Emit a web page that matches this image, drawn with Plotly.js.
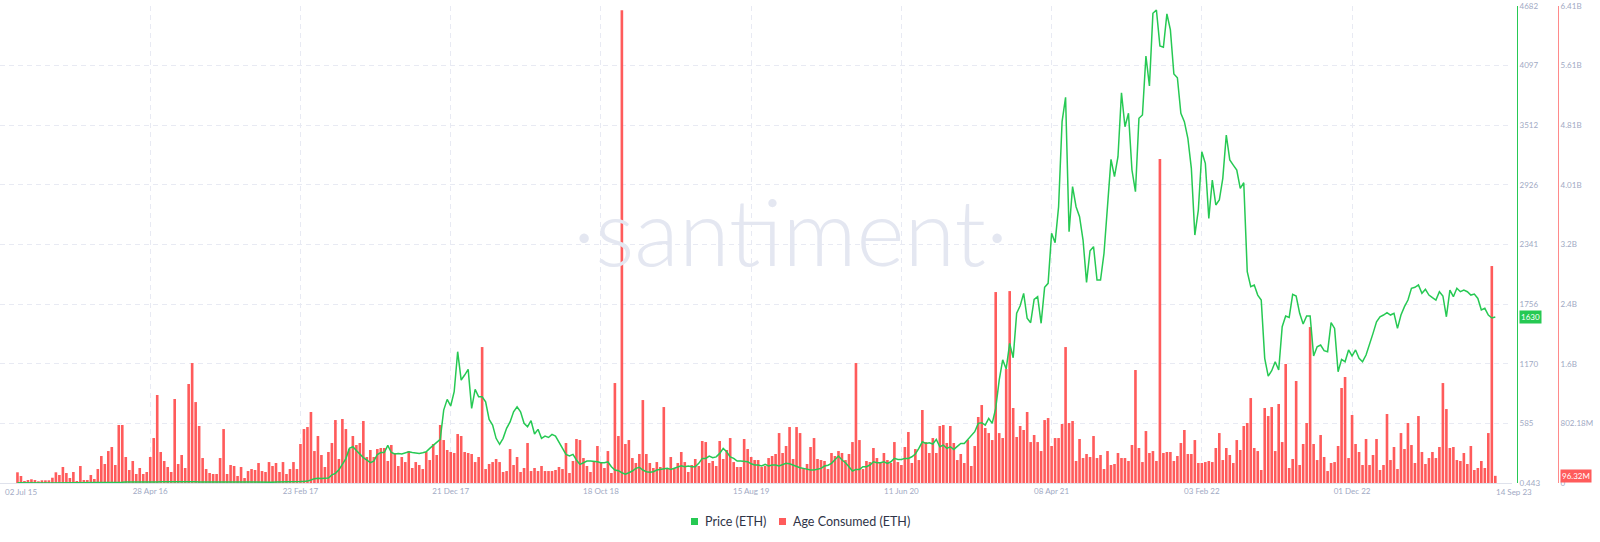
<!DOCTYPE html>
<html>
<head>
<meta charset="utf-8">
<script src="https://cdn.plot.ly/plotly-3.0.1.min.js"></script>
<style>
html,body{margin:0;padding:0;background:#fff;}
#chart{width:1600px;height:542px;}
</style>
</head>
<body>
<div id="chart"></div>
<script>
// ---- data ----
const firstWeek = '2015-08-06';   // first weekly data point
const weekCount = 424;            // weekly points up to 14 Sep 23

// Price (ETH), USD, weekly
const priceETH = [
2.8,1.8,1.4,1.2,1.3,1.0,0.9,0.8,0.7,0.6,
0.5,0.6,1.0,1.0,0.9,0.9,0.9,0.8,0.85,0.85,
0.9,0.95,0.95,1.2,1.5,2.3,2.5,4.5,4.4,6.3,
8,11,10.5,11,11.5,10,8,7.5,8,9,
10,12.5,12.5,14,17,18,14,12.5,11,11.5,
13,12,10,10.5,11,11,12,12,12.5,13,
13,12.8,12,12,11.5,11,10.5,9.8,8.5,8,
8.2,7.8,7.5,8,10,9.8,10.5,10.6,11,11.3,
12.8,14,16,19,30,43,48,44,48,50,
80,95,130,180,240,340,356,320,280,250,
226,200,215,280,300,300,370,300,285,290,
285,298,307,300,298,291,298,307,340,370,
405,429,716,821,756,896,1289,1011,1060,1116,
733,920,847,847,798,625,569,439,380,439,
537,600,700,749,700,586,553,612,481,527,
439,461,447,478,461,405,340,281,265,281,
226,183,199,216,216,216,209,199,199,209,
160,128,121,101,88,101,118,144,154,128,
111,106,111,128,134,144,144,134,144,154,
170,160,167,160,160,193,242,242,265,248,
257,291,340,307,257,242,216,216,216,210,
189,177,177,167,183,167,177,177,167,183,
193,189,177,160,150,144,136,128,128,136,
144,167,175,193,226,265,226,199,160,118,
134,134,160,160,177,209,199,199,209,193,
209,242,232,232,242,242,258,285,340,405,
389,396,383,429,356,373,340,356,330,363,
389,389,429,471,504,586,592,569,635,586,
733,1011,1210,1120,1371,1230,1666,1740,1862,1617,
1574,1803,1829,1568,1921,1960,2451,2359,2712,3547,
3786,2467,2909,2712,2614,2385,1970,2280,2320,1993,
1993,2255,2712,3177,3007,3203,3831,3497,3629,3072,
2859,3580,3612,4191,3897,4611,4643,4290,4277,4604,
4447,4015,3978,3629,3547,3384,3089,2434,2680,3252,
3138,2598,2974,2729,2778,2991,3416,3171,3121,3072,
2893,2948,2074,1927,1944,1845,1796,1224,1050,1102,
1191,1109,1534,1639,1626,1852,1836,1666,1561,1639,
1639,1247,1338,1355,1299,1289,1574,1518,1093,1214,
1191,1306,1247,1306,1224,1191,1256,1355,1469,1583,
1632,1649,1672,1649,1666,1518,1649,1731,1796,1911,
1921,1944,1862,1901,1845,1819,1796,1878,1836,1632,
1894,1829,1911,1878,1894,1878,1845,1855,1812,1698,
1715,1649,1620,1630
];

// Age Consumed (ETH), in millions, weekly
const ageConsumedM = [
144,94,27,40,50,40,23,36,36,36,
71,144,108,215,135,67,148,27,229,40,
40,108,54,188,363,256,430,484,242,780,
780,350,175,296,121,202,121,148,350,605,
1184,417,296,215,148,1130,256,377,202,1332,
1614,1089,767,336,188,135,121,121,336,726,
121,242,229,94,215,67,161,188,175,269,
161,148,282,229,269,148,282,121,188,282,
188,525,726,753,955,430,632,377,215,417,
538,847,323,861,726,457,632,511,538,834,
350,444,350,457,471,471,296,511,404,229,
350,282,430,202,282,242,188,417,309,525,
377,780,578,444,417,404,659,632,417,404,
390,282,350,1829,188,256,282,323,282,148,
161,457,242,350,148,202,538,161,202,161,
229,161,161,161,175,215,188,538,135,296,
592,578,336,229,148,296,498,282,202,430,
135,1345,632,6360,525,578,336,269,390,1116,
390,269,202,282,215,1022,202,350,202,269,
417,282,148,242,323,229,565,551,269,296,
229,565,323,444,605,282,215,215,592,457,
350,309,309,215,229,336,363,390,672,404,
498,753,323,753,672,202,256,484,605,323,
309,296,188,404,363,430,404,309,390,551,
1614,578,188,296,282,471,336,282,404,309,
269,551,282,242,484,686,269,457,309,982,
551,404,605,404,767,780,538,767,538,309,
390,269,578,229,498,888,1049,740,672,578,
2569,672,605,1533,2582,1009,619,767,713,955,
551,646,551,430,847,874,498,605,605,794,
1829,807,834,296,592,336,390,350,632,336,
377,188,430,242,256,404,336,336,296,511,
1520,471,282,699,404,430,296,4358,404,417,
417,296,363,538,713,390,390,578,269,269,
282,296,282,471,672,309,471,377,269,578,
444,767,807,1143,471,430,175,1009,901,1022,
430,1063,551,1601,202,323,1372,242,525,807,
2098,525,309,646,350,161,269,282,498,1278,
1426,336,915,525,417,242,592,242,377,592,
175,242,928,309,484,188,672,457,807,511,
269,901,417,256,336,417,336,484,1345,995,
471,484,309,296,404,256,498,175,202,296,
202,672,2919,96.32
];

const xTickDates  = ['2015-07-02','2016-04-28','2017-02-23','2017-12-21','2018-10-18','2019-08-15','2020-06-11','2021-04-08','2022-02-03','2022-12-01'];
const xTickLabels = ['02 Jul 15','28 Apr 16','23 Feb 17','21 Dec 17','18 Oct 18','15 Aug 19','11 Jun 20','08 Apr 21','03 Feb 22','01 Dec 22'];
const lastDateLabel = '14 Sep 23';

const priceTickVals   = [0.443,585.6,1170.8,1756.0,2341.2,2926.4,3511.6,4096.8,4682];
const priceTickLabels = ['0.443','585','1170','1756','2341','2926','3512','4097','4682'];
const ageTickVals     = [0,802.18,1604.36,2406.54,3208.72,4010.9,4813.08,5615.26,6417.44];
const ageTickLabels   = ['0','802.18M','1.6B','2.4B','3.2B','4.01B','4.81B','5.61B','6.41B'];

const lastPriceLabel = '1630';
const lastAgeLabel = '96.32M';

// ---- build ----
const dates = [];
const t0 = Date.parse(firstWeek + 'T00:00:00Z');
for (let i = 0; i < weekCount; i++) {
  dates.push(new Date(t0 + i * 7 * 86400000).toISOString().slice(0, 10));
}

const GREEN = '#26c953';
const RED = '#ff5b5b';
const TICK = '#9faac4';
const GRID = '#e8eaf3';
const FONT = 'Lato, "Open Sans", sans-serif';

const W = 1600;
const plotRight = 1512;

const traces = [
  {
    type: 'bar', x: dates, y: ageConsumedM, yaxis: 'y', xaxis: 'x',
    marker: {color: RED, line: {width: 0}},
    name: 'Age Consumed (ETH)', hoverinfo: 'skip', showlegend: false
  },
  {
    type: 'scatter', mode: 'lines', x: dates, y: priceETH, yaxis: 'y2', xaxis: 'x',
    line: {color: GREEN, width: 1.5},
    name: 'Price (ETH)', hoverinfo: 'skip', showlegend: false
  }
];

const xStart = '2015-07-02';
const xEnd = new Date(Date.parse(xStart + 'T00:00:00Z') + (plotRight / 0.4991) * 86400000).toISOString();

const layout = {
  width: 1600, height: 542,
  margin: {l: 0, r: 0, t: 6, b: 59},
  paper_bgcolor: '#ffffff', plot_bgcolor: '#ffffff',
  showlegend: false,
  bargap: 0.25,
  font: {family: FONT, size: 8, color: TICK},
  xaxis: {
    type: 'date', domain: [0, plotRight / W], range: [xStart, xEnd],
    tickmode: 'array', tickvals: xTickDates,
    ticktext: xTickLabels.map((t, i) => i === 0 ? '' : t),
    ticks: '', showgrid: true, gridcolor: GRID, griddash: '5px,4px', gridwidth: 1,
    showline: true, linecolor: '#dfe2ec', linewidth: 1, zeroline: false,
    tickfont: {family: FONT, size: 8, color: TICK}, fixedrange: true
  },
  yaxis: {
    range: [0, 6417.44], anchor: 'free', position: 1558 / W, side: 'right',
    tickmode: 'array', tickvals: ageTickVals, ticktext: ageTickLabels,
    ticks: '', showline: true, linecolor: '#ff8a8a', linewidth: 1,
    showgrid: true, gridcolor: GRID, griddash: '5px,4px', gridwidth: 1, zeroline: false,
    tickfont: {family: FONT, size: 8, color: TICK}, fixedrange: true
  },
  yaxis2: {
    range: [0.443, 4682], overlaying: 'y', anchor: 'free', position: 1517 / W, side: 'right',
    tickmode: 'array', tickvals: priceTickVals, ticktext: priceTickLabels,
    ticks: '', showline: true, linecolor: GREEN, linewidth: 1,
    showgrid: false, zeroline: false,
    tickfont: {family: FONT, size: 8, color: TICK}, fixedrange: true
  },
  annotations: [
    {xref: 'paper', yref: 'paper', x: 790 / W, y: 0.53, xanchor: 'center', yanchor: 'middle',
     text: '·santiment·', showarrow: false,
     font: {family: 'Lato, sans-serif', size: 92, weight: 300, color: '#e4e7f1'}},
    {xref: 'paper', yref: 'paper', x: 3 / W, y: 0, xanchor: 'left', yanchor: 'top', yshift: -2,
     text: xTickLabels[0], showarrow: false, font: {family: FONT, size: 8, color: TICK}},
    {xref: 'paper', yref: 'paper', x: 1494 / W, y: 0, xanchor: 'left', yanchor: 'top', yshift: -2,
     text: lastDateLabel, showarrow: false, font: {family: FONT, size: 8, color: TICK}},
    {xref: 'paper', yref: 'y2', x: 1519 / W, y: priceETH[priceETH.length - 1], xanchor: 'left', yanchor: 'middle',
     text: lastPriceLabel, showarrow: false, bgcolor: GREEN, borderpad: 1,
     font: {family: FONT, size: 8, color: '#ffffff'}},
    {xref: 'paper', yref: 'y', x: 1560 / W, y: ageConsumedM[ageConsumedM.length - 1], xanchor: 'left', yanchor: 'middle',
     text: lastAgeLabel, showarrow: false, bgcolor: RED, borderpad: 1,
     font: {family: FONT, size: 8, color: '#ffffff'}},
    {xref: 'paper', yref: 'paper', x: 703 / W, y: (483 - 521) / 477, xanchor: 'left', yanchor: 'middle',
     text: 'Price (ETH)', showarrow: false, font: {family: FONT, size: 12.5, color: '#2f3447'}},
    {xref: 'paper', yref: 'paper', x: 791 / W, y: (483 - 521) / 477, xanchor: 'left', yanchor: 'middle',
     text: 'Age Consumed (ETH)', showarrow: false, font: {family: FONT, size: 12.5, color: '#2f3447'}}
  ],
  shapes: [
    {type: 'rect', xref: 'paper', yref: 'paper', x0: 691 / W, x1: 698 / W,
     y0: (483 - 525) / 477, y1: (483 - 518) / 477, fillcolor: GREEN, line: {width: 0}},
    {type: 'rect', xref: 'paper', yref: 'paper', x0: 779 / W, x1: 786 / W,
     y0: (483 - 525) / 477, y1: (483 - 518) / 477, fillcolor: RED, line: {width: 0}}
  ]
};

Plotly.newPlot('chart', traces, layout, {displayModeBar: false, staticPlot: true});
</script>
</body>
</html>
